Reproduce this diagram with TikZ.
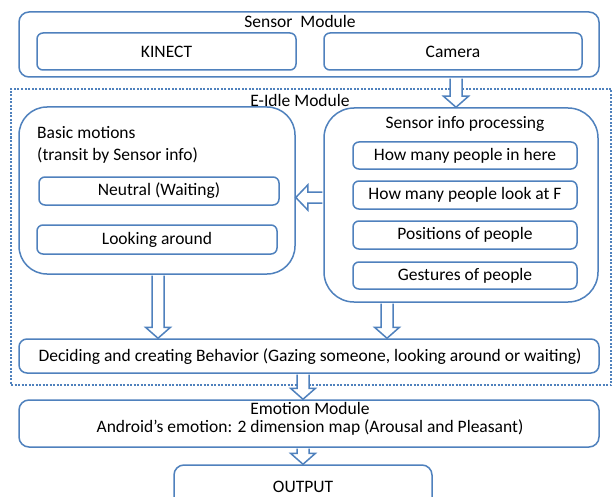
\documentclass[tikz,border=0pt]{standalone}
\usepackage{fontspec}
\setmainfont{Carlito}
\usetikzlibrary{calc}
\definecolor{bl}{HTML}{4F81BD}
\newcommand\vblock[2]{\draw[barrow] let \p1=(#1), \p2=(#2) in (\x1-6pt,\y1-0.8pt) -- (\x1-6pt,\y2+11pt) -- (\x1-12.5pt,\y2+11pt) -- (\x1,\y2) -- (\x1+12.5pt,\y2+11pt) -- (\x1+6pt,\y2+11pt) -- (\x1+6pt,\y1-0.8pt);}
\newcommand\hblock[2]{\draw[barrow] let \p1=(#1), \p2=(#2) in (\x1-0.8pt,\y1+5.5pt) -- (\x2+12pt,\y1+5.5pt) -- (\x2+12pt,\y1+12.5pt) -- (\x2,\y1) -- (\x2+12pt,\y1-12.5pt) -- (\x2+12pt,\y1-5.5pt) -- (\x1-0.8pt,\y1-5.5pt);}
\begin{document}
\begin{tikzpicture}[x=1pt,y=-1pt,
  font=\fontsize{17.5}{20}\selectfont,
  outerbox/.style={draw=bl, line width=1.5pt, rounded corners=10pt, inner sep=0pt},
  smallbox/.style={draw=bl, line width=1.5pt, rounded corners=6pt, inner sep=0pt, fill=white},
  bigbox/.style={draw=bl, line width=1.5pt, rounded corners=28pt, inner sep=0pt},
  frame/.style={draw=bl, line width=2.3pt, dash pattern=on 2pt off 1.5pt, inner sep=0pt},
  barrow/.style={draw=bl, line width=1.5pt, fill=white, line join=miter},
  txt/.style={inner sep=0pt}]
\useasboundingbox (0,0) rectangle (612,497);
\clip (0,0) rectangle (612,497);
\fill[white] (0,0) rectangle (612,497);
% Sensor module
\node[outerbox, minimum width=580pt, minimum height=65pt] (sensor) at (309,44.5) {};
\node[txt] (sensortitle) at (300,21) {Sensor~~Module};
\node[smallbox, minimum width=259pt, minimum height=37pt] (kinect) at (166.5,51.5) {KINECT};
\node[smallbox, minimum width=258pt, minimum height=37pt] (camera) at (453,51.5) {Camera};
% E-Idle frame
\node[frame, minimum width=600pt, minimum height=296pt] (eidle) at (311,237) {};
\node[txt] (eidletitle) at (300,100.5) {E-Idle Module};
% Basic motions
\node[bigbox, minimum width=276pt, minimum height=167pt] (basic) at (157,190.5) {};
\node[txt, anchor=west, align=left, font=\fontsize{17.5}{22}\selectfont] (basictitle) at (37,144.5) {Basic motions\\(transit by Sensor info)};
\node[smallbox, minimum width=240pt, minimum height=28pt] (neutral) at (159,191) {Neutral (Waiting)};
\node[smallbox, minimum width=240pt, minimum height=29pt] (looking) at (157,239.5) {Looking around};
% Sensor info processing
\node[bigbox, rounded corners=30pt, minimum width=274pt, minimum height=194pt] (sip) at (461,205) {};
\node[txt] (siptitle) at (465,123.5) {Sensor info processing};
\node[smallbox, minimum width=224pt, minimum height=27pt] (p1) at (465,155.5) {How many people in here};
\node[smallbox, minimum width=224pt, minimum height=28pt] (p2) at (465,195) {How many people look at F};
\node[smallbox, minimum width=224pt, minimum height=28pt] (p3) at (465,235) {Positions of people};
\node[smallbox, minimum width=224pt, minimum height=27pt] (p4) at (465,275.5) {Gestures of people};
% Decision
\node[outerbox, rounded corners=8pt, minimum width=580pt, minimum height=34pt] (decide) at (309,356) {};
\node[txt] (decidetext) at (310,357) {Deciding and creating Behavior (Gazing someone, looking around or waiting)};
% Emotion
\node[outerbox, minimum width=580pt, minimum height=47pt] (emotion) at (309,423.5) {};
\node[txt, align=center, font=\fontsize{17.5}{18}\selectfont] (emotiontext) at (310,419) {Emotion Module\\Android’s emotion: 2 dimension map (Arousal and Pleasant)};
% Output
\node[outerbox, minimum width=258pt, minimum height=60pt] (output) at (303,495) {};
\node[txt] (outputtext) at (303,487) {OUTPUT};
% Arrows
\coordinate (ax1) at (456,0);
\coordinate (ax2) at (158,0);
\coordinate (ax3) at (387,0);
\coordinate (ax4) at (303,0);
\coordinate (ay1) at (0,197.5);
\vblock{sensor.south -| ax1}{sip.north -| ax1}
\vblock{basic.south -| ax2}{decide.north -| ax2}
\vblock{sip.south -| ax3}{decide.north -| ax3}
\vblock{decide.south -| ax4}{emotion.north -| ax4}
\vblock{emotion.south -| ax4}{output.north -| ax4}
\hblock{sip.west |- ay1}{basic.east |- ay1}
\end{tikzpicture}
\end{document}
